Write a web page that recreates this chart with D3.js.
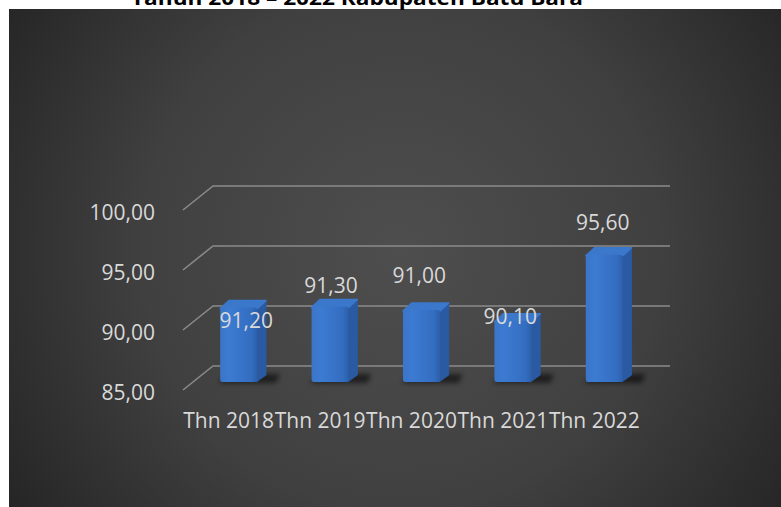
<!DOCTYPE html>
<html>
<head>
<meta charset="utf-8">
<script src="https://cdn.jsdelivr.net/npm/d3@7"></script>
<style>
  html, body { margin: 0; padding: 0; background: #ffffff; }
  svg { display: block; }
</style>
</head>
<body>
<svg id="chart" width="781" height="507"></svg>
<script>
// Chart data
const title = "Tahun 2018 \u2013 2022 Kabupaten Batu Bara";
const categories = ["Thn 2018", "Thn 2019", "Thn 2020", "Thn 2021", "Thn 2022"];
const values = [91.2, 91.3, 91.0, 90.1, 95.6];
const yTicks = [85, 90, 95, 100];

const fmt = v => v.toFixed(2).replace(".", ",");

const svg = d3.select("#chart");
const W = 781, H = 507;

// Background panel with radial shading
const defs = svg.append("defs");
const bg = defs.append("radialGradient").attr("id", "bgGrad")
  .attr("gradientUnits", "userSpaceOnUse")
  .attr("cx", 400).attr("cy", 250).attr("r", 470);
bg.append("stop").attr("offset", "0%").attr("stop-color", "#4e4e4e");
bg.append("stop").attr("offset", "55%").attr("stop-color", "#404040");
bg.append("stop").attr("offset", "100%").attr("stop-color", "#252525");

const front = defs.append("linearGradient").attr("id", "frontGrad")
  .attr("x1", "0%").attr("x2", "100%").attr("y1", "0%").attr("y2", "0%");
front.append("stop").attr("offset", "0%").attr("stop-color", "#3a76c8");
front.append("stop").attr("offset", "25%").attr("stop-color", "#3c7bd2");
front.append("stop").attr("offset", "85%").attr("stop-color", "#336dc0");
front.append("stop").attr("offset", "100%").attr("stop-color", "#2c5fa8");

const shadowBlur = defs.append("filter").attr("id", "shadowBlur")
  .attr("x", "-50%").attr("y", "-50%").attr("width", "200%").attr("height", "200%");
shadowBlur.append("feGaussianBlur").attr("stdDeviation", 2.5);

svg.append("rect").attr("x", 9).attr("y", 9).attr("width", W - 9).attr("height", H - 9)
  .attr("fill", "url(#bgGrad)");

// Title (partly above the panel)
svg.append("text")
  .attr("x", 131).attr("y", 5)
  .attr("textLength", 452).attr("lengthAdjust", "spacingAndGlyphs")
  .attr("font-family", "'Open Sans', sans-serif")
  .attr("font-weight", "bold").attr("font-size", 20)
  .attr("fill", "#000000")
  .text(title);

// 3D projection: depth 0 = front edge of the floor, 1 = back wall
const DX = 30, DY = 24;
const xCat = d3.scaleBand().domain(categories).range([183, 640]);
const xBar = d3.scaleBand().domain(categories).range([183, 640])
  .paddingInner(0.595).paddingOuter(0.2975);
const y = d3.scaleLinear().domain([85, 100]).range([390, 210]);

const proj = (x, v, depth) => [x + depth * DX, y(v) - depth * DY];

// Gridlines: diagonal on the side, horizontal on the back wall
const grid = svg.append("g");
yTicks.forEach(t => {
  const a = proj(xCat.range()[0], t, 0);
  const b = proj(xCat.range()[0], t, 1);
  const c = proj(xCat.range()[1], t, 1);
  grid.append("path")
    .attr("d", `M${a[0]},${a[1]}L${b[0]},${b[1]}L${c[0]},${c[1]}`)
    .attr("fill", "none").attr("stroke", "#8a8a8a").attr("stroke-width", 1.6);
});

// Y axis labels
svg.append("g").selectAll("text").data(yTicks).join("text")
  .attr("x", 155).attr("y", d => y(d) + 1.5)
  .attr("text-anchor", "end").attr("dominant-baseline", "central")
  .attr("font-family", "'Open Sans', sans-serif").attr("font-size", 21)
  .attr("fill", "#d9d9d9")
  .text(fmt);

// Bars
const D0 = 1 / 3, D1 = 0.625;
const bars = svg.append("g");
categories.forEach((c, i) => {
  const v = values[i];
  const bw = xBar.bandwidth();
  const [x0, yTop] = proj(xBar(c), v, D0);
  const [, yBase] = proj(xBar(c), 85, D0);
  const x1 = x0 + bw;
  const dx = (D1 - D0) * DX, dy = (D1 - D0) * DY;
  const g = bars.append("g");
  // soft shadow on the floor
  g.append("path")
    .attr("d", `M${x0 - 2},${yBase + 1}L${x1 + dx + 10},${yBase + 1}L${x1 + dx + 14},${yBase - dy - 1}L${x0 + dx},${yBase - dy - 1}Z`)
    .attr("fill", "#000").attr("opacity", 0.55).attr("filter", "url(#shadowBlur)");
  // side face
  g.append("path")
    .attr("d", `M${x1 - 1},${yTop}L${x1 + dx},${yTop - dy}L${x1 + dx},${yBase - dy}L${x1 - 1},${yBase}Z`)
    .attr("fill", "#2a5aa2").attr("stroke", "#2a5aa2").attr("stroke-width", 1).attr("stroke-linejoin", "round");
  // top face
  g.append("path")
    .attr("d", `M${x0},${yTop + 1}L${x1},${yTop + 1}L${x1 + dx},${yTop - dy}L${x0 + dx},${yTop - dy}Z`)
    .attr("fill", "#3b78cc").attr("stroke", "#3b78cc").attr("stroke-width", 1.5).attr("stroke-linejoin", "round");
  // front face
  g.append("rect")
    .attr("x", x0).attr("y", yTop).attr("width", bw).attr("height", yBase - yTop)
    .attr("rx", 2.5).attr("fill", "url(#frontGrad)");
});

// Value labels, nudged around each bar's top
const labelNudge = [[7.5, 20.4], [1, -13.4], [-2.3, -27], [-2.7, 3.2], [-1.6, -24.8]];
svg.append("g").selectAll("text").data(categories).join("text")
  .attr("x", (c, i) => xBar(c) + D0 * DX + xBar.bandwidth() / 2 + labelNudge[i][0])
  .attr("y", (c, i) => y(values[i]) - D0 * DY + labelNudge[i][1])
  .attr("text-anchor", "middle")
  .attr("font-family", "'Open Sans', sans-serif").attr("font-size", 21)
  .attr("fill", "#d9d9d9")
  .text((c, i) => fmt(values[i]));

// Category labels
svg.append("g").selectAll("text").data(categories).join("text")
  .attr("x", c => xCat(c) + xCat.bandwidth() / 2)
  .attr("y", 428)
  .attr("text-anchor", "middle")
  .attr("font-family", "'Open Sans', sans-serif").attr("font-size", 21)
  .attr("fill", "#d9d9d9")
  .text(c => c);
</script>
</body>
</html>
